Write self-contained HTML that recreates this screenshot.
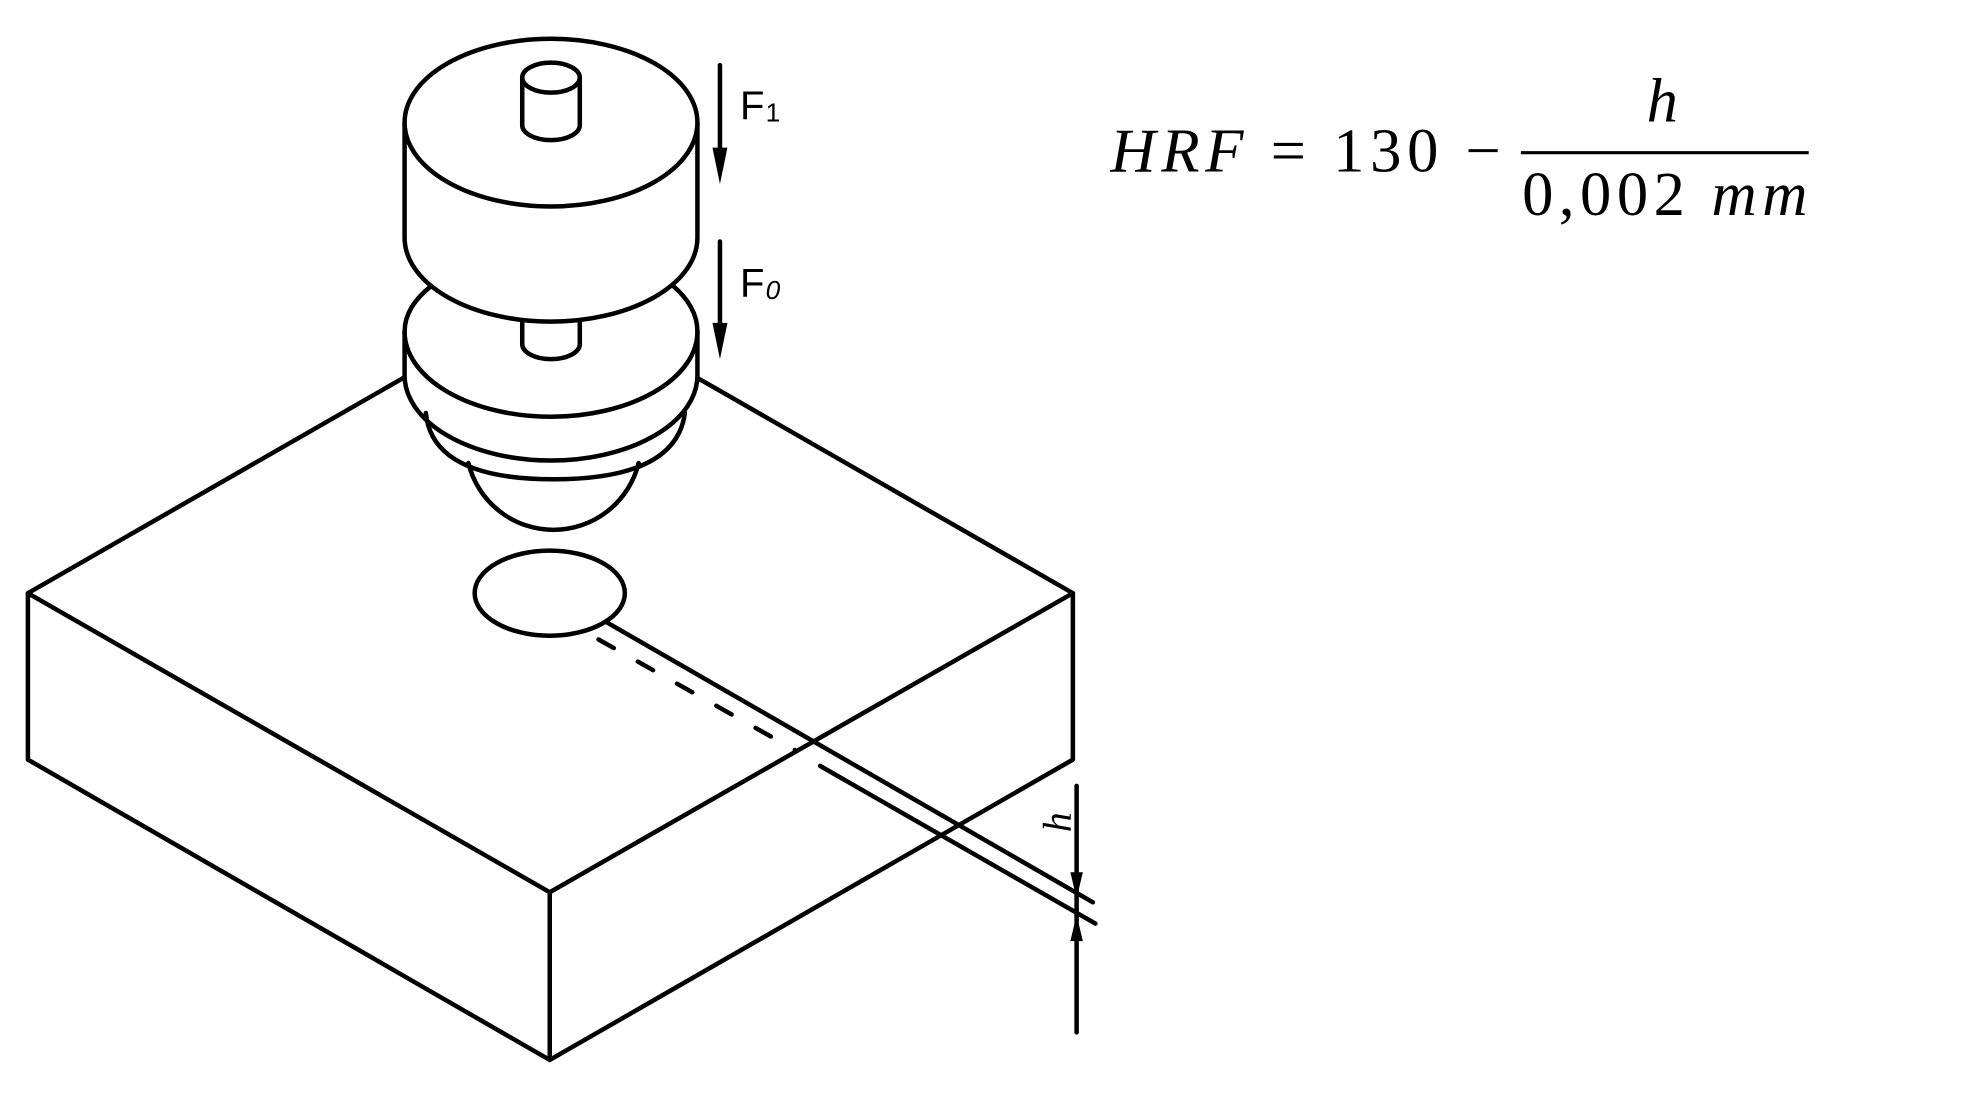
<!DOCTYPE html>
<html><head><meta charset="utf-8"><style>
html,body{margin:0;padding:0;background:#fff;}
svg{display:block;}
</style></head><body>
<svg width="1963" height="1095" viewBox="0 0 1568 875" xmlns="http://www.w3.org/2000/svg">
<g fill="none" stroke="#000" stroke-width="3.6" stroke-linecap="round" stroke-linejoin="round">
<!-- box -->
<polyline points="322,302 22,474 22,607 439,847 857,607 857,474 557,302"/>
<polyline points="22,474 439,713 857,474"/>
<line x1="439" y1="713" x2="439" y2="847"/>
<!-- indentation -->
<ellipse cx="439" cy="474" rx="60" ry="34"/>
<line x1="484" y1="497" x2="873" y2="721"/>
<line x1="655" y1="612" x2="875" y2="738"/>
<line x1="478" y1="511" x2="636" y2="600" stroke-dasharray="14,22"/>
<!-- dimension -->
<line x1="860" y1="628" x2="860" y2="825"/>
<!-- dome and rings -->
<path d="M374,370 A70,70 0 0 0 510,370"/>
<path d="M340,330 Q345,383 442,383 Q540,383 547,330"/>
<path d="M323,265 L323,300 A117,68 0 0 0 557,300 L557,265"/>
<path d="M345,228 Q323,245 323,265 A117,68 0 0 0 557,265 Q557,245 537,228"/>
<path d="M417,257 L417,275 A23,12 0 0 0 463,275 L463,257"/>
<!-- top cylinder -->
<path d="M323,98 L323,190 A117,67 0 0 0 557,190 L557,98" fill="#fff"/>
<ellipse cx="440" cy="98" rx="117" ry="67" fill="#fff"/>
<path d="M417,62 L417,100 A23,12 0 0 0 463,100 L463,62"/>
<ellipse cx="440" cy="62" rx="23" ry="12"/>
<!-- force arrows -->
<line x1="575" y1="52" x2="575" y2="120"/>
<line x1="575" y1="193" x2="575" y2="260"/>
</g>
<g fill="#000">
<polygon points="569,118 581,118 575,147"/>
<polygon points="569,258 581,258 575,287"/>
<polygon points="855,697 865,697 860,718"/>
<polygon points="855,752 865,752 860,731"/>
</g>
<g font-family="'Liberation Sans',sans-serif" font-size="32" fill="#000">
<text x="591" y="95" transform="scale(1,1)">F<tspan font-size="21" dx="1" dy="2">1</tspan></text>
<text x="591" y="237">F<tspan font-size="21" dx="1" dy="2" font-style="italic">0</tspan></text>
</g>
<text transform="translate(855,665) rotate(-90)" font-family="'Liberation Serif',serif" font-style="italic" font-size="32" fill="#000">h</text>
<g font-family="'Liberation Serif',serif" font-size="50" fill="#000">
<text x="887" y="137" textLength="312" lengthAdjust="spacing"><tspan font-style="italic">HRF</tspan> = 130 −</text>
<text x="1328" y="97" text-anchor="middle" font-style="italic">h</text>
<text x="1216" y="172" textLength="228" lengthAdjust="spacing">0,002 <tspan font-style="italic">mm</tspan></text>
</g>
<line x1="1215" y1="122" x2="1445" y2="122" stroke="#000" stroke-width="2.5"/>
</svg>
</body></html>
